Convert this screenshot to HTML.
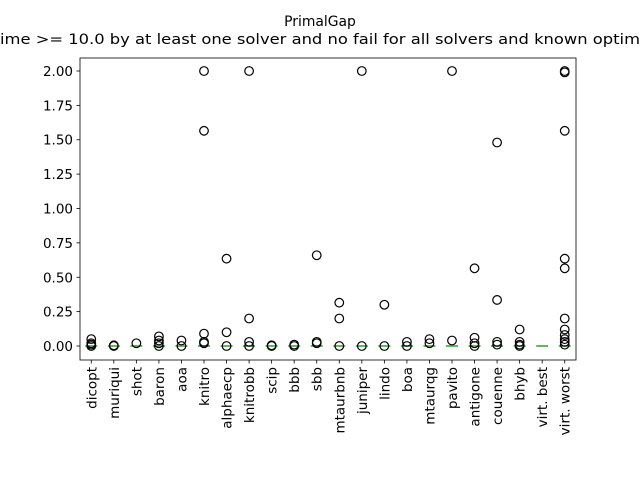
<!DOCTYPE html>
<html><head><meta charset="utf-8"><style>
body{margin:0;background:#fff}
svg{display:block;font-family:"DejaVu Sans","Liberation Sans",sans-serif}
</style></head><body>
<svg id="chart" width="640" height="480" viewBox="0 0 640 480">
<text x="320" y="26" text-anchor="middle" font-size="13.9">PrimalGap</text>
<text x="0" y="44" font-size="13.9" textLength="640" lengthAdjust="spacingAndGlyphs">ime &gt;= 10.0 by at least one solver and no fail for all solvers and known optim</text>
<g id="plot"></g>
</svg>
<script>
const categories=["dicopt","muriqui","shot","baron","aoa","knitro","alphaecp","knitrobb","scip","bbb","sbb","mtaurbnb","juniper","lindo","boa","mtaurqg","pavito","antigone","couenne","bhyb","virt. best","virt. worst"];
const medians=[0,0,0,0,0,0,0,0,0,0,0,0,0,0,0,0,0,0,0,0,0,0];
const outliers=[
[0.05,0.02,0.01,0.0],
[0.005,0.0],
[0.02],
[0.07,0.04,0.02,0.0],
[0.04,0.0],
[2.0,1.565,0.09,0.03,0.02],
[0.635,0.1,0.0],
[2.0,0.2,0.03,0.0],
[0.005,0.0],
[0.01,0.0],
[0.66,0.03,0.02],
[0.315,0.2,0.0],
[2.0,0.0],
[0.3,0.0],
[0.03,0.0],
[0.05,0.02],
[2.0,0.04],
[0.565,0.06,0.02,0.0],
[1.48,0.335,0.03,0.01],
[0.12,0.03,0.01,0.0],
[],
[2.0,1.99,1.565,0.635,0.565,0.2,0.12,0.08,0.05,0.03,0.01]
];
const yTicks=[0,0.25,0.5,0.75,1.0,1.25,1.5,1.75,2.0];
const yTickLabels=["0.00","0.25","0.50","0.75","1.00","1.25","1.50","1.75","2.00"];

const L=80,R=576,T=58,B=360,ymin=-0.1018,ymax=2.0945;
const xs=i=>L+(i+0.5)*(R-L)/categories.length;
const ys=v=>B-(v-ymin)/(ymax-ymin)*(B-T);
const NS="http://www.w3.org/2000/svg";
const g=document.getElementById('plot');
function mk(tag,attrs){const e=document.createElementNS(NS,tag);for(const k in attrs)e.setAttribute(k,attrs[k]);g.appendChild(e);return e;}

yTicks.forEach((v,i)=>{
  const y=ys(v);
  const t=mk('line',{x1:L-3.5,x2:L,y1:y,y2:y,stroke:'#000','stroke-width':0.8});
  
  
  const lb=mk('text',{x:L-7,y:y+5,'text-anchor':'end','font-size':13.5});
  lb.textContent=yTickLabels[i];
  
  
});
categories.forEach((c,i)=>{
  const x=xs(i);
  const t=mk('line',{x1:x,x2:x,y1:B,y2:B+3.5,stroke:'#000','stroke-width':0.8});
  
  
  const lb=mk('text',{x:0,y:0,'text-anchor':'end','font-size':13.5,transform:`translate(${x+5},${B+7}) rotate(-90)`});
  lb.textContent=c;
  
  
  const m=mk('line',{x1:x-6,x2:x+6,y1:ys(medians[i]),y2:ys(medians[i]),stroke:'#2ca02c','stroke-width':1.5});
  
  
  outliers[i].forEach(v=>{
    const p=mk('circle',{cx:x,cy:ys(v),r:4.3,fill:'none',stroke:'#000','stroke-width':1.2});
    
    
  });
});
const fr=mk('rect',{x:L,y:T,width:R-L,height:B-T,fill:'none',stroke:'#000','stroke-width':0.8});


</script>
</body></html>
